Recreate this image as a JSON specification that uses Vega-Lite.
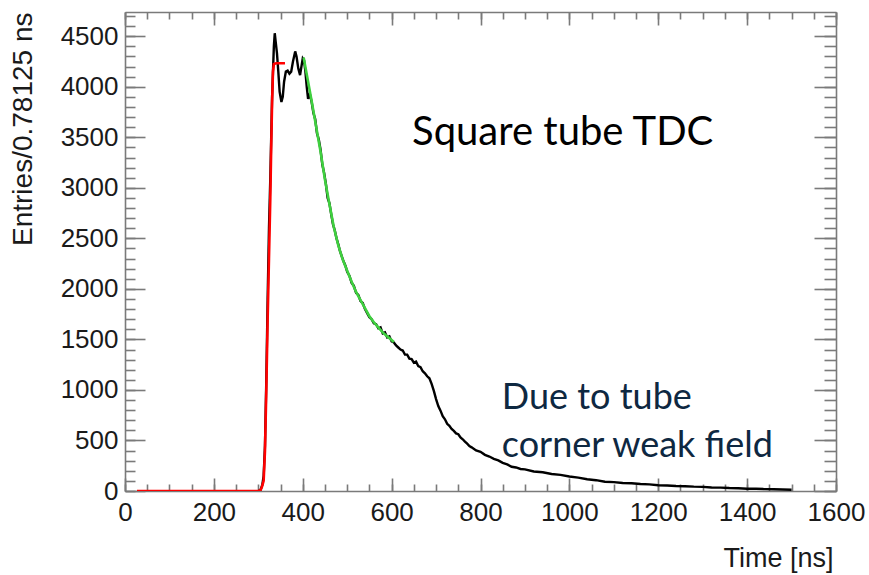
{
  "$schema": "https://vega.github.io/schema/vega-lite/v6.json",
  "autosize": {"type": "none"},
  "padding": {"left": 125, "top": 12, "right": 33, "bottom": 84},
  "width": 711,
  "height": 479,
  "background": "white",
  "config": {
    "view": {"stroke": null},
    "axis": {
      "grid": false,
      "domainColor": "#7a7a7a",
      "domainWidth": 1.6,
      "tickColor": "#7a7a7a",
      "tickWidth": 1.6,
      "labelFont": "Liberation Sans",
      "labelFontSize": 26,
      "labelColor": "#1a1a1a",
      "labelFlush": false,
      "labelOverlap": false,
      "titleFont": "Liberation Sans",
      "titleFontWeight": "normal",
      "titleColor": "#1a1a1a"
    }
  },
  "datasets": {
    "hist": [
      {"t": 300, "n": 0}, {"t": 305, "n": 10}, {"t": 309, "n": 60}, {"t": 312, "n": 150}, {"t": 315, "n": 450},
      {"t": 318, "n": 1100}, {"t": 321, "n": 1900}, {"t": 324, "n": 2600}, {"t": 327, "n": 3100}, {"t": 329, "n": 3500},
      {"t": 331, "n": 3900}, {"t": 333, "n": 4150}, {"t": 335, "n": 4400}, {"t": 337, "n": 4530}, {"t": 339, "n": 4450},
      {"t": 342, "n": 4330}, {"t": 345, "n": 4150}, {"t": 348, "n": 3950}, {"t": 352, "n": 3850}, {"t": 355, "n": 3900},
      {"t": 358, "n": 4050}, {"t": 362, "n": 4150}, {"t": 366, "n": 4160}, {"t": 370, "n": 4130}, {"t": 374, "n": 4150},
      {"t": 378, "n": 4250}, {"t": 383, "n": 4350}, {"t": 386, "n": 4300}, {"t": 390, "n": 4180}, {"t": 394, "n": 4115},
      {"t": 397, "n": 4200}, {"t": 400, "n": 4280}, {"t": 403, "n": 4260}, {"t": 406, "n": 4150}, {"t": 409, "n": 4000},
      {"t": 412, "n": 3880}, {"t": 416, "n": 3930}, {"t": 420, "n": 3850}, {"t": 424, "n": 3740}, {"t": 428, "n": 3680},
      {"t": 432, "n": 3540}, {"t": 436, "n": 3480}, {"t": 440, "n": 3380}, {"t": 444, "n": 3230}, {"t": 448, "n": 3150},
      {"t": 452, "n": 3040}, {"t": 456, "n": 2900}, {"t": 460, "n": 2850}, {"t": 464, "n": 2740}, {"t": 468, "n": 2640},
      {"t": 472, "n": 2580}, {"t": 476, "n": 2500}, {"t": 480, "n": 2440}, {"t": 484, "n": 2370}, {"t": 488, "n": 2320},
      {"t": 492, "n": 2270}, {"t": 496, "n": 2230}, {"t": 500, "n": 2170}, {"t": 505, "n": 2130}, {"t": 510, "n": 2060},
      {"t": 515, "n": 2030}, {"t": 520, "n": 1960}, {"t": 525, "n": 1940}, {"t": 530, "n": 1880}, {"t": 535, "n": 1860},
      {"t": 540, "n": 1800}, {"t": 545, "n": 1760}, {"t": 550, "n": 1720}, {"t": 555, "n": 1700}, {"t": 560, "n": 1660},
      {"t": 565, "n": 1650}, {"t": 570, "n": 1610}, {"t": 575, "n": 1620}, {"t": 580, "n": 1560}, {"t": 585, "n": 1570},
      {"t": 590, "n": 1520}, {"t": 595, "n": 1530}, {"t": 600, "n": 1480}, {"t": 605, "n": 1470}, {"t": 610, "n": 1440},
      {"t": 615, "n": 1420}, {"t": 620, "n": 1400}, {"t": 625, "n": 1390}, {"t": 630, "n": 1350}, {"t": 635, "n": 1350},
      {"t": 640, "n": 1310}, {"t": 645, "n": 1305}, {"t": 650, "n": 1270}, {"t": 655, "n": 1280}, {"t": 660, "n": 1235},
      {"t": 665, "n": 1225}, {"t": 670, "n": 1185}, {"t": 675, "n": 1165}, {"t": 680, "n": 1135}, {"t": 685, "n": 1115},
      {"t": 690, "n": 1060}, {"t": 695, "n": 990}, {"t": 700, "n": 910}, {"t": 705, "n": 840}, {"t": 710, "n": 795},
      {"t": 715, "n": 740}, {"t": 720, "n": 710}, {"t": 725, "n": 665}, {"t": 730, "n": 645}, {"t": 735, "n": 615},
      {"t": 740, "n": 595}, {"t": 745, "n": 570}, {"t": 750, "n": 562}, {"t": 755, "n": 530}, {"t": 760, "n": 512},
      {"t": 765, "n": 488}, {"t": 770, "n": 468}, {"t": 775, "n": 445}, {"t": 780, "n": 432}, {"t": 790, "n": 402},
      {"t": 800, "n": 388}, {"t": 810, "n": 358}, {"t": 820, "n": 341}, {"t": 830, "n": 318}, {"t": 840, "n": 303},
      {"t": 850, "n": 278}, {"t": 860, "n": 263}, {"t": 870, "n": 240}, {"t": 880, "n": 233}, {"t": 890, "n": 218},
      {"t": 900, "n": 214}, {"t": 920, "n": 193}, {"t": 940, "n": 185}, {"t": 960, "n": 168}, {"t": 980, "n": 160},
      {"t": 1000, "n": 143}, {"t": 1020, "n": 132}, {"t": 1040, "n": 116}, {"t": 1060, "n": 107}, {"t": 1080, "n": 91},
      {"t": 1100, "n": 88}, {"t": 1120, "n": 79}, {"t": 1140, "n": 76}, {"t": 1160, "n": 69}, {"t": 1180, "n": 66},
      {"t": 1200, "n": 57}, {"t": 1220, "n": 55}, {"t": 1240, "n": 49}, {"t": 1260, "n": 47}, {"t": 1280, "n": 43},
      {"t": 1300, "n": 41}, {"t": 1320, "n": 35}, {"t": 1340, "n": 33}, {"t": 1360, "n": 29}, {"t": 1380, "n": 27},
      {"t": 1400, "n": 23}, {"t": 1420, "n": 22}, {"t": 1440, "n": 19}, {"t": 1460, "n": 17}, {"t": 1480, "n": 15},
      {"t": 1500, "n": 13}
    ],
    "redfit": [
      {"t": 27, "n": 0}, {"t": 300, "n": 0}, {"t": 305, "n": 8}, {"t": 308, "n": 40}, {"t": 312, "n": 100},
      {"t": 315, "n": 400}, {"t": 318, "n": 1000}, {"t": 321, "n": 1700}, {"t": 324, "n": 2300}, {"t": 327, "n": 2900},
      {"t": 329, "n": 3400}, {"t": 331, "n": 3850}, {"t": 333, "n": 4150}, {"t": 335, "n": 4225}, {"t": 340, "n": 4233},
      {"t": 360, "n": 4233}
    ],
    "greenfit": [
      {"t": 402, "n": 4290}, {"t": 410, "n": 4100}, {"t": 420, "n": 3860}, {"t": 430, "n": 3610}, {"t": 440, "n": 3360},
      {"t": 450, "n": 3080}, {"t": 460, "n": 2840}, {"t": 470, "n": 2610}, {"t": 480, "n": 2430}, {"t": 490, "n": 2290},
      {"t": 500, "n": 2180}, {"t": 510, "n": 2070}, {"t": 520, "n": 1970}, {"t": 530, "n": 1890}, {"t": 540, "n": 1810},
      {"t": 550, "n": 1730}, {"t": 560, "n": 1670}, {"t": 570, "n": 1620}, {"t": 580, "n": 1570}, {"t": 590, "n": 1530},
      {"t": 600, "n": 1495}, {"t": 605, "n": 1475}
    ],
    "note1": [
      {"t": 646, "n": 3422, "label": "Square tube TDC"}
    ],
    "note2": [
      {"t": 848, "n": 811, "label": "Due to tube"},
      {"t": 848, "n": 336, "label": "corner weak field"}
    ]
  },
  "resolve": {"axis": {"x": "independent", "y": "independent"}},
  "layer": [
    {
      "data": {"name": "hist"},
      "mark": {"type": "line", "color": "#000000", "strokeWidth": 2.4, "clip": true},
      "encoding": {
        "x": {
          "field": "t", "type": "quantitative",
          "scale": {"domain": [0, 1600], "nice": false, "zero": false},
          "axis": {
            "orient": "bottom", "format": "d",
            "values": [0, 200, 400, 600, 800, 1000, 1200, 1400, 1600],
            "tickSize": -13, "labelPadding": 21,
            "title": "Time [ns]", "titleFontSize": 27,
            "titleX": 708, "titleY": 75, "titleAlign": "right", "titleBaseline": "alphabetic", "titleAngle": 0
          }
        },
        "y": {
          "field": "n", "type": "quantitative",
          "scale": {"domain": [0, 4740], "nice": false, "zero": true},
          "axis": {
            "orient": "left", "format": "d",
            "values": [0, 500, 1000, 1500, 2000, 2500, 3000, 3500, 4000, 4500],
            "tickSize": -20, "labelPadding": 27,
            "title": "Entries/0.78125 ns", "titleFontSize": 28,
            "titleX": -88, "titleY": 0, "titleAngle": 270, "titleAlign": "right", "titleBaseline": "bottom"
          }
        }
      }
    },
    {
      "data": {"name": "redfit"},
      "mark": {"type": "line", "color": "#ff0000", "strokeWidth": 2.6, "clip": true},
      "encoding": {
        "x": {
          "field": "t", "type": "quantitative",
          "axis": {
            "orient": "bottom",
            "values": [0, 50, 100, 150, 200, 250, 300, 350, 400, 450, 500, 550, 600, 650, 700, 750, 800, 850, 900, 950, 1000, 1050, 1100, 1150, 1200, 1250, 1300, 1350, 1400, 1450, 1500, 1550, 1600],
            "tickSize": -7, "labels": false, "domain": false, "title": null
          }
        },
        "y": {
          "field": "n", "type": "quantitative",
          "axis": {
            "orient": "left",
            "values": [0, 100, 200, 300, 400, 500, 600, 700, 800, 900, 1000, 1100, 1200, 1300, 1400, 1500, 1600, 1700, 1800, 1900, 2000, 2100, 2200, 2300, 2400, 2500, 2600, 2700, 2800, 2900, 3000, 3100, 3200, 3300, 3400, 3500, 3600, 3700, 3800, 3900, 4000, 4100, 4200, 4300, 4400, 4500, 4600, 4700],
            "tickSize": -10, "labels": false, "domain": false, "title": null
          }
        }
      }
    },
    {
      "data": {"name": "greenfit"},
      "mark": {"type": "line", "color": "#3fd03f", "strokeWidth": 2.6, "clip": true},
      "encoding": {
        "x": {
          "field": "t", "type": "quantitative",
          "axis": {
            "orient": "top",
            "values": [0, 200, 400, 600, 800, 1000, 1200, 1400, 1600],
            "tickSize": -13, "labels": false, "title": null
          }
        },
        "y": {
          "field": "n", "type": "quantitative",
          "axis": {
            "orient": "right",
            "values": [0, 500, 1000, 1500, 2000, 2500, 3000, 3500, 4000, 4500],
            "tickSize": -22, "labels": false, "title": null
          }
        }
      }
    },
    {
      "data": {"name": "note1"},
      "mark": {"type": "text", "font": "Lato", "fontSize": 40, "color": "#000000", "align": "left", "baseline": "alphabetic"},
      "encoding": {
        "x": {
          "field": "t", "type": "quantitative",
          "axis": {
            "orient": "top",
            "values": [0, 50, 100, 150, 200, 250, 300, 350, 400, 450, 500, 550, 600, 650, 700, 750, 800, 850, 900, 950, 1000, 1050, 1100, 1150, 1200, 1250, 1300, 1350, 1400, 1450, 1500, 1550, 1600],
            "tickSize": -7, "labels": false, "domain": false, "title": null
          }
        },
        "y": {
          "field": "n", "type": "quantitative",
          "axis": {
            "orient": "right",
            "values": [0, 100, 200, 300, 400, 500, 600, 700, 800, 900, 1000, 1100, 1200, 1300, 1400, 1500, 1600, 1700, 1800, 1900, 2000, 2100, 2200, 2300, 2400, 2500, 2600, 2700, 2800, 2900, 3000, 3100, 3200, 3300, 3400, 3500, 3600, 3700, 3800, 3900, 4000, 4100, 4200, 4300, 4400, 4500, 4600, 4700],
            "tickSize": -12, "labels": false, "domain": false, "title": null
          }
        },
        "text": {"field": "label", "type": "nominal"}
      }
    },
    {
      "data": {"name": "note2"},
      "mark": {"type": "text", "font": "Lato", "fontSize": 36, "color": "#0e2841", "align": "left", "baseline": "alphabetic"},
      "encoding": {
        "x": {"field": "t", "type": "quantitative", "axis": null},
        "y": {"field": "n", "type": "quantitative", "axis": null},
        "text": {"field": "label", "type": "nominal"}
      }
    }
  ]
}
